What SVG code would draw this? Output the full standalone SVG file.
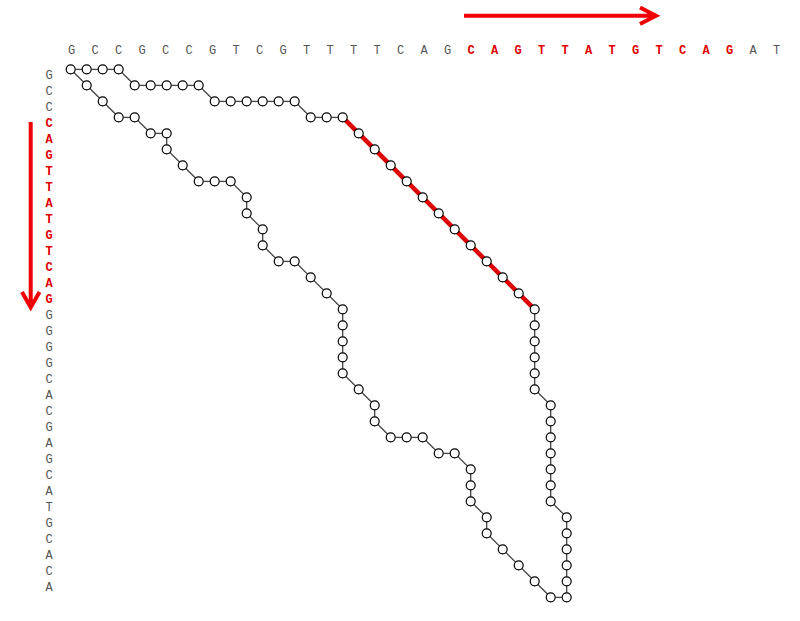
<svg xmlns="http://www.w3.org/2000/svg" width="800" height="621" viewBox="0 0 800 621">
<style>
.seq{font-family:"Liberation Mono","Courier New",monospace;font-size:12px;fill:#555;text-anchor:middle}
.hi{fill:#e00000;font-weight:bold}
.edge{fill:none;stroke:#444;stroke-width:1.3}
.red{fill:none;stroke:#e00000;stroke-width:4.5}
.arrow{fill:none;stroke:#f00000;stroke-width:4}
.n circle{fill:#fff;stroke:#000;stroke-width:1.2}
</style>
<rect width="800" height="621" fill="#fff"/>
<g id="arrows">
<path class="arrow" d="M464,15.7 H655 M640,7.5 L656,15.7 L640,24"/>
<path class="arrow" d="M30.7,122 V306 M22,292 L30.7,307.5 L39.5,292"/>
</g>
<g id="top-sequence">
<text class="seq" y="54"><tspan x="71.7 95.2 118.7 142.2 165.7 189.2 212.7 236.2 259.7 283.2 306.7 330.2 353.7 377.2 400.7 424.2 447.7">GCCGCCGTCGTTTTCAG</tspan><tspan class="hi" x="471.2 494.7 518.2 541.7 565.2 588.7 612.2 635.7 659.2 682.7 706.2 729.7">CAGTTATGTCAG</tspan><tspan x="753.2 776.7">AT</tspan></text>
</g>
<g id="left-sequence">
<text class="seq"><tspan x="49 49 49" y="79 95 111">GCC</tspan><tspan class="hi" x="49 49 49 49 49 49 49 49 49 49 49 49" y="127 143 159 175 191 207 223 239 255 271 287 303">CAGTTATGTCAG</tspan><tspan x="49 49 49 49 49 49 49 49 49 49 49 49 49 49 49 49 49 49" y="319 335 351 367 383 399 415 431 447 463 479 495 511 527 543 559 575 591">GGGGCACGAGCATGCACA</tspan></text>
</g>
<g transform="translate(70.7,69.3)">
<g id="connectors">
<polyline class="edge" points="0,0 48,0 64,16 128,16 144,32 224,32 240,48 272,48"/>
<polyline class="red" points="272,48 464,240"/>
<polyline class="edge" points="464,240 464,320 480,336 480,432 496,448 496,528"/>
<polyline class="edge" points="0,0 48,48 64,48 80,64 96,64 96,80 128,112 160,112 176,128 176,144 192,160 192,176 208,192 224,192 272,240 272,304 288,320 304,336 304,352 320,368 352,368 368,384 384,384 400,400 400,432 416,448 416,464 480,528 496,528"/>
</g>
<g id="nodes">
<g id="n0-0" class="n"><circle cx="0" cy="0" r="4.5"/></g>
<g id="n1-0" class="n"><circle cx="16" cy="0" r="4.5"/></g>
<g id="n2-0" class="n"><circle cx="32" cy="0" r="4.5"/></g>
<g id="n3-0" class="n"><circle cx="48" cy="0" r="4.5"/></g>
<g id="n4-1" class="n"><circle cx="64" cy="16" r="4.5"/></g>
<g id="n5-1" class="n"><circle cx="80" cy="16" r="4.5"/></g>
<g id="n6-1" class="n"><circle cx="96" cy="16" r="4.5"/></g>
<g id="n7-1" class="n"><circle cx="112" cy="16" r="4.5"/></g>
<g id="n8-1" class="n"><circle cx="128" cy="16" r="4.5"/></g>
<g id="n9-2" class="n"><circle cx="144" cy="32" r="4.5"/></g>
<g id="n10-2" class="n"><circle cx="160" cy="32" r="4.5"/></g>
<g id="n11-2" class="n"><circle cx="176" cy="32" r="4.5"/></g>
<g id="n12-2" class="n"><circle cx="192" cy="32" r="4.5"/></g>
<g id="n13-2" class="n"><circle cx="208" cy="32" r="4.5"/></g>
<g id="n14-2" class="n"><circle cx="224" cy="32" r="4.5"/></g>
<g id="n15-3" class="n"><circle cx="240" cy="48" r="4.5"/></g>
<g id="n16-3" class="n"><circle cx="256" cy="48" r="4.5"/></g>
<g id="n17-3" class="n"><circle cx="272" cy="48" r="4.5"/></g>
<g id="n18-4" class="n"><circle cx="288" cy="64" r="4.5"/></g>
<g id="n19-5" class="n"><circle cx="304" cy="80" r="4.5"/></g>
<g id="n20-6" class="n"><circle cx="320" cy="96" r="4.5"/></g>
<g id="n21-7" class="n"><circle cx="336" cy="112" r="4.5"/></g>
<g id="n22-8" class="n"><circle cx="352" cy="128" r="4.5"/></g>
<g id="n23-9" class="n"><circle cx="368" cy="144" r="4.5"/></g>
<g id="n24-10" class="n"><circle cx="384" cy="160" r="4.5"/></g>
<g id="n25-11" class="n"><circle cx="400" cy="176" r="4.5"/></g>
<g id="n26-12" class="n"><circle cx="416" cy="192" r="4.5"/></g>
<g id="n27-13" class="n"><circle cx="432" cy="208" r="4.5"/></g>
<g id="n28-14" class="n"><circle cx="448" cy="224" r="4.5"/></g>
<g id="n29-15" class="n"><circle cx="464" cy="240" r="4.5"/></g>
<g id="n29-16" class="n"><circle cx="464" cy="256" r="4.5"/></g>
<g id="n29-17" class="n"><circle cx="464" cy="272" r="4.5"/></g>
<g id="n29-18" class="n"><circle cx="464" cy="288" r="4.5"/></g>
<g id="n29-19" class="n"><circle cx="464" cy="304" r="4.5"/></g>
<g id="n29-20" class="n"><circle cx="464" cy="320" r="4.5"/></g>
<g id="n30-21" class="n"><circle cx="480" cy="336" r="4.5"/></g>
<g id="n30-22" class="n"><circle cx="480" cy="352" r="4.5"/></g>
<g id="n30-23" class="n"><circle cx="480" cy="368" r="4.5"/></g>
<g id="n30-24" class="n"><circle cx="480" cy="384" r="4.5"/></g>
<g id="n30-25" class="n"><circle cx="480" cy="400" r="4.5"/></g>
<g id="n30-26" class="n"><circle cx="480" cy="416" r="4.5"/></g>
<g id="n30-27" class="n"><circle cx="480" cy="432" r="4.5"/></g>
<g id="n31-28" class="n"><circle cx="496" cy="448" r="4.5"/></g>
<g id="n31-29" class="n"><circle cx="496" cy="464" r="4.5"/></g>
<g id="n31-30" class="n"><circle cx="496" cy="480" r="4.5"/></g>
<g id="n31-31" class="n"><circle cx="496" cy="496" r="4.5"/></g>
<g id="n31-32" class="n"><circle cx="496" cy="512" r="4.5"/></g>
<g id="n31-33" class="n"><circle cx="496" cy="528" r="4.5"/></g>
<g id="n1-1" class="n"><circle cx="16" cy="16" r="4.5"/></g>
<g id="n2-2" class="n"><circle cx="32" cy="32" r="4.5"/></g>
<g id="n3-3" class="n"><circle cx="48" cy="48" r="4.5"/></g>
<g id="n4-3" class="n"><circle cx="64" cy="48" r="4.5"/></g>
<g id="n5-4" class="n"><circle cx="80" cy="64" r="4.5"/></g>
<g id="n6-4" class="n"><circle cx="96" cy="64" r="4.5"/></g>
<g id="n6-5" class="n"><circle cx="96" cy="80" r="4.5"/></g>
<g id="n7-6" class="n"><circle cx="112" cy="96" r="4.5"/></g>
<g id="n8-7" class="n"><circle cx="128" cy="112" r="4.5"/></g>
<g id="n9-7" class="n"><circle cx="144" cy="112" r="4.5"/></g>
<g id="n10-7" class="n"><circle cx="160" cy="112" r="4.5"/></g>
<g id="n11-8" class="n"><circle cx="176" cy="128" r="4.5"/></g>
<g id="n11-9" class="n"><circle cx="176" cy="144" r="4.5"/></g>
<g id="n12-10" class="n"><circle cx="192" cy="160" r="4.5"/></g>
<g id="n12-11" class="n"><circle cx="192" cy="176" r="4.5"/></g>
<g id="n13-12" class="n"><circle cx="208" cy="192" r="4.5"/></g>
<g id="n14-12" class="n"><circle cx="224" cy="192" r="4.5"/></g>
<g id="n15-13" class="n"><circle cx="240" cy="208" r="4.5"/></g>
<g id="n16-14" class="n"><circle cx="256" cy="224" r="4.5"/></g>
<g id="n17-15" class="n"><circle cx="272" cy="240" r="4.5"/></g>
<g id="n17-16" class="n"><circle cx="272" cy="256" r="4.5"/></g>
<g id="n17-17" class="n"><circle cx="272" cy="272" r="4.5"/></g>
<g id="n17-18" class="n"><circle cx="272" cy="288" r="4.5"/></g>
<g id="n17-19" class="n"><circle cx="272" cy="304" r="4.5"/></g>
<g id="n18-20" class="n"><circle cx="288" cy="320" r="4.5"/></g>
<g id="n19-21" class="n"><circle cx="304" cy="336" r="4.5"/></g>
<g id="n19-22" class="n"><circle cx="304" cy="352" r="4.5"/></g>
<g id="n20-23" class="n"><circle cx="320" cy="368" r="4.5"/></g>
<g id="n21-23" class="n"><circle cx="336" cy="368" r="4.5"/></g>
<g id="n22-23" class="n"><circle cx="352" cy="368" r="4.5"/></g>
<g id="n23-24" class="n"><circle cx="368" cy="384" r="4.5"/></g>
<g id="n24-24" class="n"><circle cx="384" cy="384" r="4.5"/></g>
<g id="n25-25" class="n"><circle cx="400" cy="400" r="4.5"/></g>
<g id="n25-26" class="n"><circle cx="400" cy="416" r="4.5"/></g>
<g id="n25-27" class="n"><circle cx="400" cy="432" r="4.5"/></g>
<g id="n26-28" class="n"><circle cx="416" cy="448" r="4.5"/></g>
<g id="n26-29" class="n"><circle cx="416" cy="464" r="4.5"/></g>
<g id="n27-30" class="n"><circle cx="432" cy="480" r="4.5"/></g>
<g id="n28-31" class="n"><circle cx="448" cy="496" r="4.5"/></g>
<g id="n29-32" class="n"><circle cx="464" cy="512" r="4.5"/></g>
<g id="n30-33" class="n"><circle cx="480" cy="528" r="4.5"/></g>
</g>
</g>
</svg>
